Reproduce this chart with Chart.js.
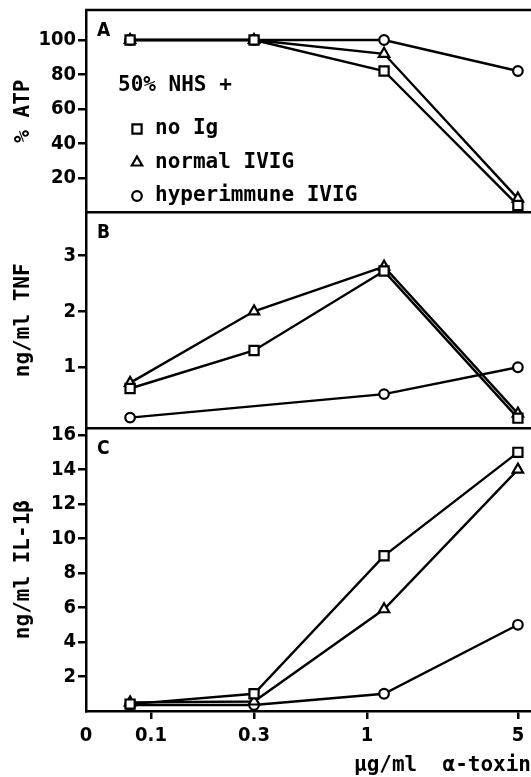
<!DOCTYPE html>
<html>
<head>
<meta charset="utf-8">
<script src="https://cdn.jsdelivr.net/npm/chart.js@4.4.1/dist/chart.umd.min.js"></script>
<style>
html,body{margin:0;padding:0;background:#fff;}
#wrap{position:relative;width:531px;height:777px;}
</style>
</head>
<body>
<div id="wrap"><canvas id="c" width="531" height="777"></canvas></div>
<script>
// ---- data ----
const doses = [0.08, 0.3, 1.2, 5];                 // µg/ml alpha-toxin
const xTickValues = [0.05, 0.1, 0.3, 1, 5];
const xTickLabels = ['0', '0.1', '0.3', '1', '5'];
const seriesNames = ['no Ig', 'normal IVIG', 'hyperimmune IVIG'];
const legendTitle = '50% NHS +';
const panelLetters = ['A', 'B', 'C'];

// Panel A: % ATP
const atpNoIg   = [100, 100, 82, 4];
const atpNormal = [100, 100, 92, 8];
const atpHyper  = [100, 100, 100, 82];
// Panel B: ng/ml TNF
const tnfNoIg   = [0.62, 1.3, 2.72, 0.09];
const tnfNormal = [0.72, 2.0, 2.8, 0.17];
const tnfHyper  = [0.1, null, 0.52, 1.0];
// Panel C: ng/ml IL-1beta
const il1NoIg   = [0.4, 1.0, 9.0, 15.0];
const il1Normal = [0.5, 0.55, 5.9, 14.0];
const il1Hyper  = [0.35, 0.35, 1.0, 5.0];

const yTicksA = [20, 40, 60, 80, 100];
const yTicksB = [1, 2, 3];
const yTicksC = [2, 4, 6, 8, 10, 12, 14, 16];

// ---- styling ----
const TICK_FONT = {family: '"DejaVu Sans Condensed", "DejaVu Sans", sans-serif', size: 20, weight: 'bold'};
const MONO = '"DejaVu Sans Mono", monospace';
const TITLE_FONT = {family: MONO, size: 21, weight: 'bold', lineHeight: 1};
const styles = [
  {pointStyle: 'rect', pointRadius: 6.5},
  {pointStyle: 'triangle', pointRadius: 6},
  {pointStyle: 'circle', pointRadius: 4.8}
];

function mk(values, s, yAxisID) {
  return {
    label: seriesNames[s],
    data: doses.map((x, i) => ({x: x, y: values[i]})),
    yAxisID: yAxisID,
    borderColor: '#000',
    borderWidth: 2.4,
    pointStyle: styles[s].pointStyle,
    pointRadius: styles[s].pointRadius,
    pointBackgroundColor: '#fff',
    pointBorderColor: '#000',
    pointBorderWidth: 2.2,
    fill: false,
    tension: 0,
    spanGaps: true
  };
}

function yScale(weight, min, max, ticks, title) {
  return {
    type: 'linear',
    position: 'left',
    stack: 'panels',
    stackWeight: weight,
    min: min, max: max,
    afterBuildTicks: (s) => { s.ticks = ticks.map(v => ({value: v})); },
    afterFit: (s) => { s.width = 86; s.paddingTop = 0; s.paddingBottom = 0; },
    border: {display: true, color: '#000', width: 2.5},
    grid: {drawOnChartArea: false, drawTicks: true, tickLength: 8, color: '#000', lineWidth: 2.5},
    ticks: {color: '#000', font: TICK_FONT, padding: 2, autoSkip: false},
    title: {display: true, text: title, color: '#000', font: TITLE_FONT, padding: {top: 13, bottom: 0}}
  };
}

const framePlugin = {
  id: 'panelFrame',
  beforeDatasetsDraw(chart) {
    const ctx = chart.ctx;
    const left = chart.chartArea.left;
    ctx.save();
    ctx.strokeStyle = '#000';
    ctx.lineWidth = 2.5;
    ['yA', 'yB', 'yC'].forEach(id => {
      const s = chart.scales[id];
      ctx.beginPath();
      ctx.moveTo(left - 1, s.top);
      ctx.lineTo(chart.width, s.top);
      ctx.stroke();
    });
    ctx.restore();
  },
  afterDraw(chart) {
    const ctx = chart.ctx;
    const left = chart.chartArea.left;
    ctx.save();
    // panel letters
    ctx.fillStyle = '#000';
    ctx.font = 'bold 19px "DejaVu Sans Condensed", "DejaVu Sans", sans-serif';
    ctx.textBaseline = 'middle';
    ctx.textAlign = 'left';
    ['yA', 'yB', 'yC'].forEach((id, i) => {
      const s = chart.scales[id];
      ctx.fillText(panelLetters[i], left + 11, s.top + 21);
    });
    // legend inside panel A
    const top = chart.scales.yA.top;
    ctx.font = 'bold 21px ' + MONO;
    ctx.fillText(legendTitle, left + 32, top + 76);
    chart.data.datasets.slice(0, 3).forEach((ds, i) => {
      const y = top + 119 + i * 33.5;
      const x = left + 51;
      ctx.fillStyle = '#fff';
      ctx.strokeStyle = '#000';
      ctx.lineWidth = 2.2;
      if (Chart.helpers && Chart.helpers.drawPoint) {
        Chart.helpers.drawPoint(ctx, {pointStyle: ds.pointStyle, radius: ds.pointRadius, borderWidth: 2, rotation: 0}, x, y);
      }
      ctx.fillStyle = '#000';
      ctx.fillText(ds.label, left + 69, y);
    });
    ctx.restore();
  }
};

new Chart(document.getElementById('c'), {
  type: 'line',
  data: {
    datasets: [
      mk(atpNoIg, 0, 'yA'), mk(atpNormal, 1, 'yA'), mk(atpHyper, 2, 'yA'),
      mk(tnfNoIg, 0, 'yB'), mk(tnfNormal, 1, 'yB'), mk(tnfHyper, 2, 'yB'),
      mk(il1NoIg, 0, 'yC'), mk(il1Normal, 1, 'yC'), mk(il1Hyper, 2, 'yC')
    ]
  },
  options: {
    responsive: false,
    animation: false,
    devicePixelRatio: 1,
    layout: {autoPadding: false, padding: {top: 10, left: 0, right: 0, bottom: 0}},
    plugins: {legend: {display: false}, tooltip: {enabled: false}},
    scales: {
      x: {
        type: 'logarithmic',
        position: 'bottom',
        min: 0.05, max: 5.75,
        afterBuildTicks: (s) => { s.ticks = xTickValues.map(v => ({value: v})); },
        afterFit: (s) => { s.height = 66; s.paddingLeft = 0; s.paddingRight = 0; },
        border: {display: true, color: '#000', width: 2.5},
        grid: {
          drawOnChartArea: false, drawTicks: true, tickLength: 8, lineWidth: 2.5,
          color: (c) => (c.index === 0 ? 'rgba(0,0,0,0)' : '#000')
        },
        ticks: {
          color: '#000', font: TICK_FONT, padding: 5, autoSkip: false, maxRotation: 0,
          callback: (v, i) => xTickLabels[i]
        },
        title: {display: true, text: 'µg/ml  α-toxin', align: 'end', color: '#000', font: TITLE_FONT, padding: {top: 0, bottom: 1}}
      },
      // stacked panels: last defined is placed on top
      yC: yScale(283, 0, 16.4, yTicksC, 'ng/ml IL-1β'),
      yB: yScale(216, -0.09, 3.77, yTicksB, 'ng/ml TNF'),
      yA: yScale(202.5, 0, 117.4, yTicksA, '% ATP')
    }
  },
  plugins: [framePlugin]
});
</script>
</body>
</html>
